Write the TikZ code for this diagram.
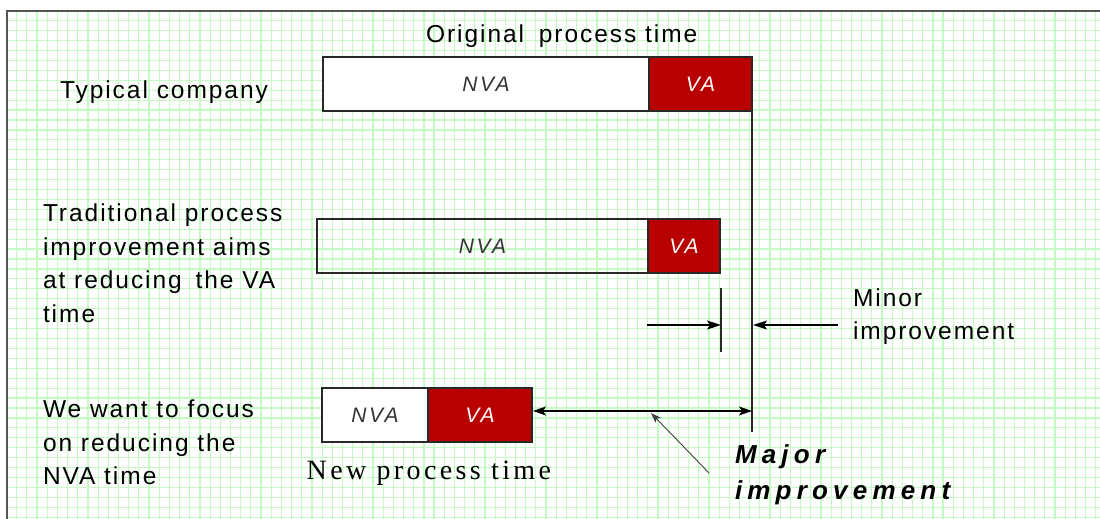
\documentclass[tikz,border=0pt]{standalone}
\usepackage{fontspec}
\setmainfont{Liberation Sans}
\newfontfamily\lblfont[LetterSpace=8]{Liberation Sans}
\newfontfamily\majfont[LetterSpace=20]{Liberation Sans}
\newfontfamily\boxfont[LetterSpace=12]{Liberation Sans}
\newfontfamily\serifsp[LetterSpace=12]{Liberation Serif}
\usetikzlibrary{arrows.meta}
\definecolor{gridgreen}{RGB}{196,250,196}
\definecolor{vared}{RGB}{184,0,0}
\definecolor{framegray}{RGB}{85,85,85}
\definecolor{boxline}{RGB}{40,40,40}
\tikzset{
  gridline/.style={draw=gridgreen,line width=1.2pt},
  framestyle/.style={draw=framegray,line width=1.6pt},
  barpart/.style={draw=boxline,line width=1.2pt,inner sep=0pt,outer sep=0pt,
    minimum height=54pt,anchor=north west,font=\boxfont\itshape\fontsize{21}{24}\selectfont},
  nvabox/.style={barpart,fill=white,text=black!80},
  nvaclear/.style={barpart,text=black!80},
  vabox/.style={barpart,fill=vared,text=white},
  label/.style={inner sep=0pt,outer sep=0pt,align=left,font=\lblfont\fontsize{24.5}{33.5}\selectfont},
  majlabel/.style={inner sep=0pt,outer sep=0pt,align=left,font=\majfont\bfseries\itshape\fontsize{26}{36}\selectfont},
  serlabel/.style={inner sep=0pt,outer sep=0pt,font=\serifsp\fontsize{28}{30}\selectfont},
  timeline/.style={draw=boxline,line width=1.3pt},
  dimarrow/.style={draw=black,line width=1.1pt,-{Stealth[length=14pt,width=9pt,inset=3pt]}},
  dblarrow/.style={draw=black,line width=1.1pt,{Stealth[length=13pt,width=9pt,inset=3pt]}-{Stealth[length=13pt,width=9pt,inset=3pt]}},
  pointer/.style={draw=black!75,line width=0.9pt,-{Stealth[length=10pt,width=7pt,inset=2pt]}}
}
\begin{document}
\begin{tikzpicture}[x=1pt,y=-1pt]
\useasboundingbox (0,0) rectangle (1100,519);
\fill[white] (0,0) rectangle (1100,519);
% grid
\foreach \k in {0,...,106} \draw[gridline] ({16.7+10.18*\k},11) -- ({16.7+10.18*\k},519);
\foreach \k in {0,...,50} \draw[gridline] (7,{20.7+9.93*\k}) -- (1100,{20.7+9.93*\k});
% frame
\draw[framestyle] (7,519) -- (7,11) -- (1100,11);

% titles
\node[label,anchor=base west] (origtitle) at (426,42.7) {Original\hspace{6pt} process time};
\node[label,anchor=base west] (typical) at (60,98) {Typical company};

% bar 1
\node[nvabox,minimum width=326pt] (nva1) at (323,57) {NVA};
\node[vabox,minimum width=103pt] (va1) at (nva1.north east) {VA};

% bar 2
\node[nvaclear,minimum width=331pt] (nva2) at (317,219) {NVA};
\node[vabox,minimum width=72pt] (va2) at (nva2.north east) {VA};

% bar 3
\node[nvabox,minimum width=106pt] (nva3) at (322,388) {NVA};
\node[vabox,minimum width=104pt] (va3) at (nva3.north east) {VA};

% left labels
\node[label,anchor=north west] (trad) at (43,204) {Traditional process\\improvement aims\\at reducing\hspace{5pt} the VA\\time};
\node[label,anchor=north west] (focus) at (43,400) {We want to focus\\on reducing the\\NVA time};

% original end line
\coordinate (origend) at (752,432);
\draw[timeline] (va1.south east) -- (origend);

% minor improvement
\coordinate (tickT) at (721,288);
\coordinate (tickB) at (721,352);
\draw[timeline] (tickT) -- (tickB);
\coordinate (mA) at (647,325);
\coordinate (mB) at (721,325);
\coordinate (mC) at (838,325);
\coordinate (mD) at (753,325);
\draw[dimarrow] (mA) -- (mB);
\draw[dimarrow] (mC) -- (mD);
\node[label,anchor=north west] (minor) at (853,288.5) {Minor\\improvement};

% major improvement
\coordinate (majL) at (533,411);
\coordinate (majR) at (752,411);
\draw[dblarrow] (majL) -- (majR);
\coordinate (ptrS) at (709,473);
\coordinate (ptrE) at (651,413);
\draw[pointer] (ptrS) -- (ptrE);
\node[majlabel,anchor=north west] (major) at (735,445) {Major\\improvement};

% new process time
\node[serlabel,anchor=base west] (newtime) at (306.7,479.3) {New process time};
\end{tikzpicture}
\end{document}
